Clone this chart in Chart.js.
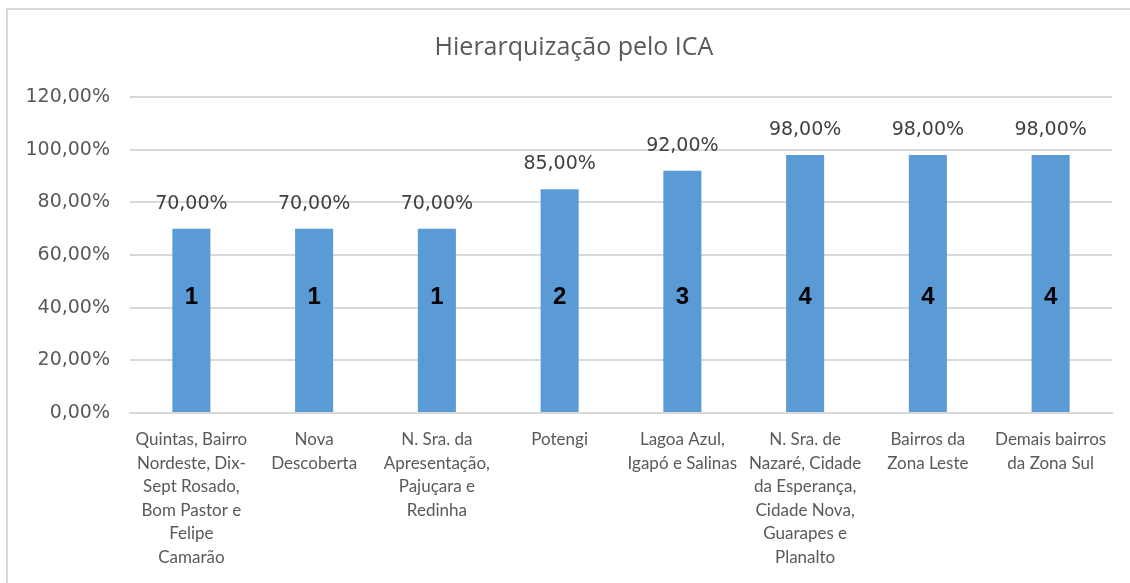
<!DOCTYPE html>
<html>
<head>
<meta charset="utf-8">
<script src="https://cdn.jsdelivr.net/npm/chart.js@4.4.1/dist/chart.umd.min.js"></script>
<style>
  html, body { margin: 0; padding: 0; background: #fff; overflow: hidden; }
  #wrap { position: relative; width: 1130px; height: 583px; }
  #frame { position: absolute; left: 6px; top: 8px; width: 1200px; height: 700px; border: 2px solid #d9d9d9; box-sizing: border-box; }
  canvas { position: absolute; left: 0; top: 0; }
</style>
</head>
<body>
<div id="wrap">
  <div id="frame"></div>
  <canvas id="c" width="1130" height="583"></canvas>
</div>
<script>
const categories = [
  ["Quintas, Bairro", "Nordeste, Dix-", "Sept Rosado,", "Bom Pastor e", "Felipe", "Camarão"],
  ["Nova", "Descoberta"],
  ["N. Sra. da", "Apresentação,", "Pajuçara e", "Redinha"],
  ["Potengi"],
  ["Lagoa Azul,", "Igapó e Salinas"],
  ["N. Sra. de", "Nazaré, Cidade", "da Esperança,", "Cidade Nova,", "Guarapes e", "Planalto"],
  ["Bairros da", "Zona Leste"],
  ["Demais bairros", "da Zona Sul"]
];
const values = [70, 70, 70, 85, 92, 98, 98, 98];
const ranks = ["1", "1", "1", "2", "3", "4", "4", "4"];
const rankLevel = 44;
const yTicks = [0, 20, 40, 60, 80, 100, 120];

function fmtPct(v) { return v.toFixed(2).replace('.', ',') + '%'; }

const labelPlugin = {
  id: 'labels',
  afterDatasetsDraw(chart) {
    const ctx = chart.ctx;
    const meta = chart.getDatasetMeta(0);
    const yScale = chart.scales.y;
    ctx.save();
    ctx.textAlign = 'center';
    ctx.textBaseline = 'middle';
    meta.data.forEach((bar, i) => {
      ctx.fillStyle = '#404040';
      ctx.font = '19px "DejaVu Sans"';
      ctx.fillText(fmtPct(values[i]), bar.x, bar.y - 25);
      ctx.fillStyle = '#000000';
      ctx.font = 'bold 24px "Liberation Sans"';
      ctx.fillText(ranks[i], bar.x, yScale.getPixelForValue(rankLevel));
    });
    ctx.restore();
  }
};

new Chart(document.getElementById('c'), {
  type: 'bar',
  data: {
    labels: categories,
    datasets: [{
      data: values,
      backgroundColor: '#5B9BD5',
      borderWidth: 0,
      barPercentage: 1,
      categoryPercentage: 0.31
    }]
  },
  options: {
    responsive: false,
    animation: false,
    devicePixelRatio: 1,
    layout: { padding: { left: 18, right: 0, top: 0, bottom: 0 } },
    plugins: {
      legend: { display: false },
      tooltip: { enabled: false },
      title: {
        display: true,
        text: 'Hierarquização pelo ICA',
        color: '#595959',
        font: { family: '"Open Sans"', size: 25, weight: 'normal', lineHeight: 1.2 },
        padding: { top: 33, bottom: 34 }
      }
    },
    scales: {
      x: {
        grid: { display: false },
        border: { display: true, color: '#d9d9d9', width: 2 },
        ticks: {
          color: '#595959',
          font: { family: 'Lato', size: 17, lineHeight: 1.38 },
          maxRotation: 0, minRotation: 0, autoSkip: false,
          padding: 7
        },
        afterFit(scale) { scale.height = 170; }
      },
      y: {
        min: 0, max: 120,
        afterBuildTicks(scale) { scale.ticks = yTicks.map(v => ({ value: v })); },
        grid: { color: '#d9d9d9', lineWidth: 2, drawTicks: false },
        border: { display: false },
        ticks: {
          color: '#595959',
          font: { family: '"DejaVu Sans"', size: 19 },
          padding: 20,
          callback: v => fmtPct(v)
        },
        afterFit(scale) { scale.width = 112; }
      },
      yRight: {
        position: 'right',
        min: 0, max: 120,
        grid: { display: false, drawOnChartArea: false },
        border: { display: false },
        ticks: { display: false },
        afterFit(scale) { scale.width = 18; }
      }
    }
  },
  plugins: [labelPlugin]
});
</script>
</body>
</html>
